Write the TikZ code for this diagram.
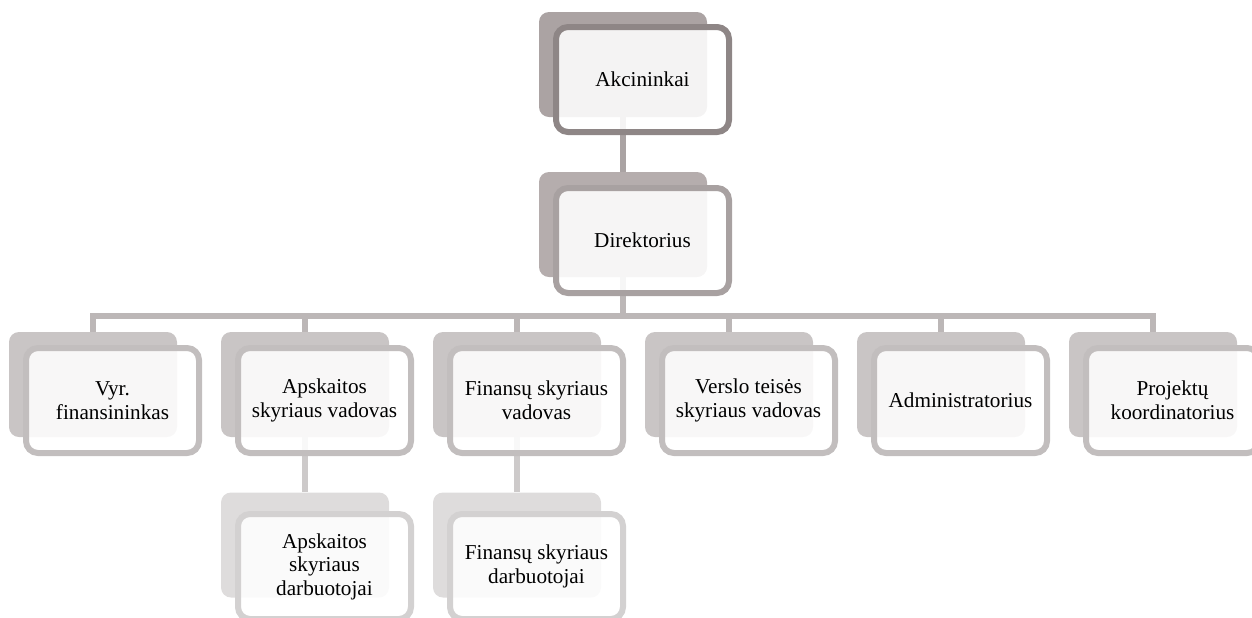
\documentclass[tikz,border=0pt]{standalone}
\usepackage{fontspec}
\setmainfont{Liberation Serif}
\definecolor{backA}{RGB}{171,163,163}
\definecolor{lineA}{RGB}{142,134,134}
\definecolor{backB}{RGB}{181,173,173}
\definecolor{lineB}{RGB}{168,161,161}
\definecolor{backC}{RGB}{201,197,197}
\definecolor{lineC}{RGB}{194,190,190}
\definecolor{backD}{RGB}{222,220,220}
\definecolor{lineD}{RGB}{211,209,209}
\definecolor{linkA}{RGB}{170,163,163}
\definecolor{linkB}{RGB}{188,183,183}
\definecolor{linkC}{RGB}{205,202,202}

\begin{document}
\begin{tikzpicture}[x=0.5pt,y=-0.5pt,
	backbox/.style={rectangle, rounded corners=5pt, minimum width=84pt, minimum height=52.5pt, inner sep=0pt, fill=#1},
	framebox/.style={rectangle, rounded corners=6pt, minimum width=86.5pt, minimum height=52.5pt, inner sep=2pt, line width=3pt, draw=#1, fill=white, fill opacity=.88, text opacity=1, align=center, font=\fontsize{10.6}{11.8}\selectfont},
	link/.style={draw=#1, line width=3pt}]
	\useasboundingbox (0,0) rectangle (1252,617);
	\node[backbox=backA] (akcb) at (623,64.5) {};
	\node[backbox=backB] (dirb) at (623,224.5) {};
	\node[backbox=backC] (vyrb) at (93,384.5) {};
	\node[backbox=backC] (apvb) at (305,384.5) {};
	\node[backbox=backC] (fivb) at (517,384.5) {};
	\node[backbox=backC] (verb) at (729,384.5) {};
	\node[backbox=backC] (admb) at (941,384.5) {};
	\node[backbox=backC] (prob) at (1153,384.5) {};
	\node[backbox=backD] (apdb) at (305,545) {};
	\node[backbox=backD] (fidb) at (517,545) {};
	\coordinate (bar) at (623,316);
	\draw[link=linkA] (akcb.south) -- (dirb.north);
	\foreach \n in {vyrb,apvb,fivb,verb,admb,prob}
		\draw[link=linkB] (dirb.south) -- (bar) -| (\n.north);
	\draw[link=linkC] (apvb.south) -- (apdb.north);
	\draw[link=linkC] (fivb.south) -- (fidb.north);
	\node[framebox=lineA] (akc) at (642.5,79.5) {Akcininkai};
	\node[framebox=lineB] (dir) at (642.5,240.5) {Direktorius};
	\node[framebox=lineC] (vyr) at (112.5,400.5) {Vyr.\\finansininkas};
	\node[framebox=lineC] (apv) at (324.5,400.5) {Apskaitos\\skyriaus vadovas};
	\node[framebox=lineC] (fiv) at (536.5,400.5) {Finansų skyriaus\\vadovas};
	\node[framebox=lineC] (ver) at (748.5,400.5) {Verslo teisės\\skyriaus vadovas};
	\node[framebox=lineC] (adm) at (960.5,400.5) {Administratorius};
	\node[framebox=lineC] (pro) at (1172.5,400.5) {Projektų\\koordinatorius};
	\node[framebox=lineD] (apd) at (324.5,566.5) {Apskaitos\\skyriaus\\darbuotojai};
	\node[framebox=lineD] (fid) at (536.5,566.5) {Finansų skyriaus\\darbuotojai};
\end{tikzpicture}
\end{document}
